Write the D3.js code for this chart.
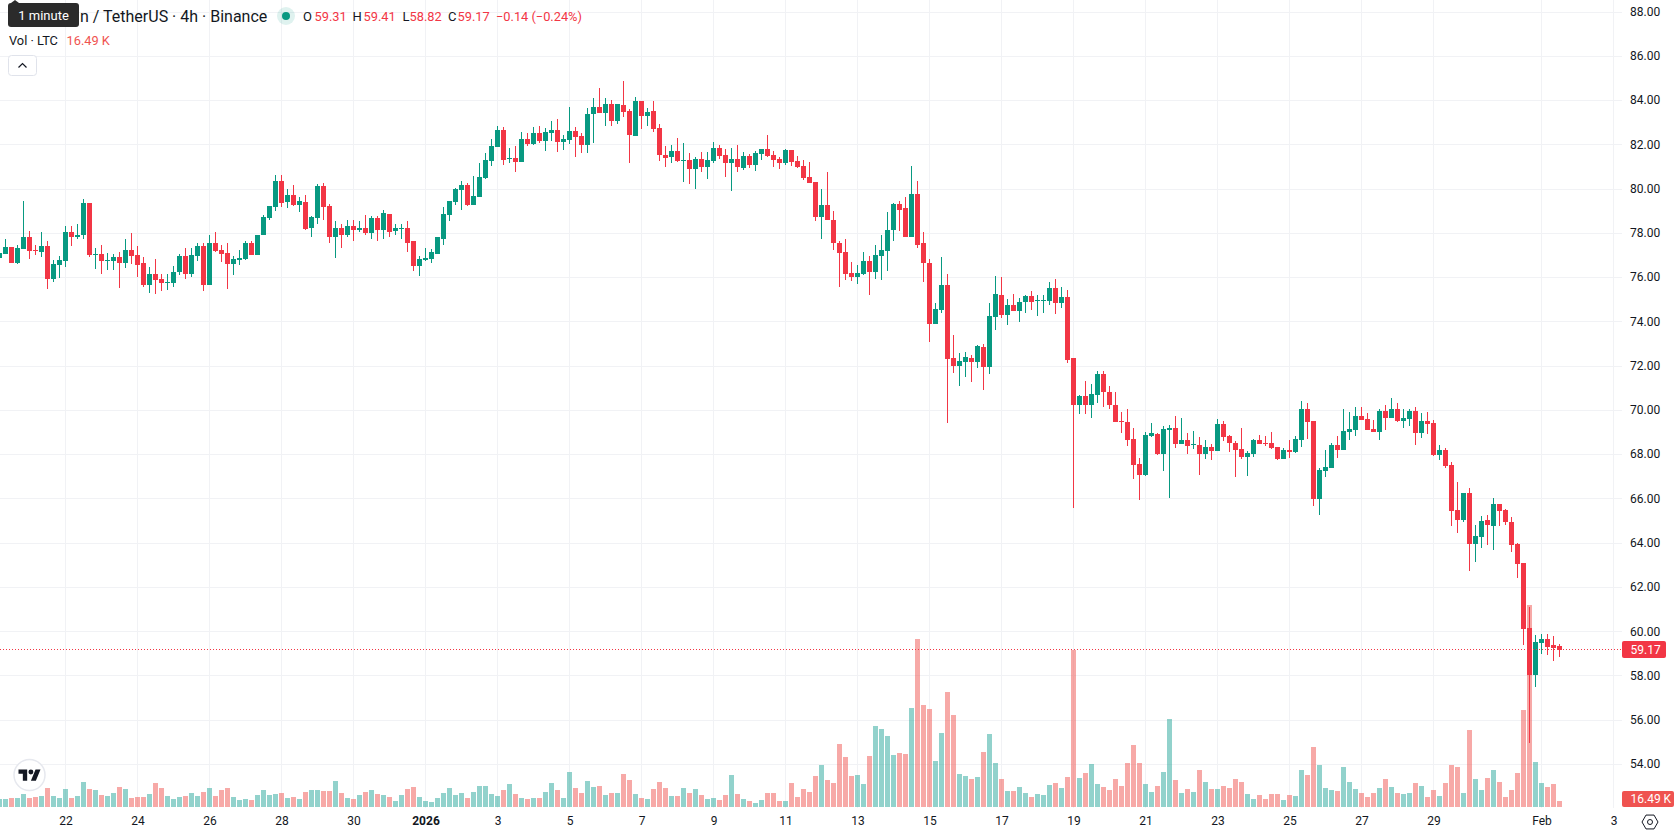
<!DOCTYPE html>
<html>
<head>
<meta charset="utf-8">
<title>LTC/USDT 4h</title>
<script src="https://cdn.jsdelivr.net/npm/d3@7/dist/d3.min.js"></script>
<style>
  html, body { margin: 0; padding: 0; background: #fff; overflow: hidden; }
  svg { display: block; font-family: Roboto, "Noto Sans", sans-serif; }
</style>
</head>
<body>
<svg id="chart" width="1678" height="835"></svg>
<script>
// 4h LTC/USDT candles, oldest first, starting 20 Dec 04:00 UTC
const firstCandle = Date.UTC(2025, 11, 20, 4);
const candleMs = 4 * 3600 * 1000;

const opens = [
  76.88,77.06,77.38,76.65,77.29,77.83,77.24,77.15,77.42,75.92,
  76.56,76.74,78.02,77.79,77.88,79.33,77.02,77.06,76.74,76.74,
  76.92,76.65,77.24,77.02,76.65,75.65,76.15,75.92,75.74,75.74,
  76.24,76.97,76.15,76.97,77.42,75.65,77.56,77.24,77.11,76.61,
  76.79,76.83,77.56,77.02,77.88,78.65,79.15,80.33,79.38,79.70,
  79.24,79.38,78.24,78.65,80.11,79.20,77.79,78.20,77.88,78.29,
  78.11,78.24,77.97,78.65,78.11,78.83,78.06,78.20,78.24,77.61,
  76.52,76.79,76.83,77.06,77.74,78.79,79.38,79.92,80.15,79.24,
  79.61,80.47,81.24,81.88,82.65,81.33,81.38,81.20,82.24,82.02,
  82.52,82.15,82.52,82.65,82.11,82.20,82.61,82.38,81.97,83.38,
  83.70,83.42,83.83,83.06,83.79,83.52,82.38,83.97,83.29,83.52,
  82.74,81.52,81.42,81.70,81.24,81.29,80.88,81.33,80.97,81.24,
  81.83,81.52,81.15,81.33,80.92,81.47,81.06,81.56,81.79,81.52,
  81.33,81.15,81.74,81.24,81.02,80.52,80.29,78.70,79.24,78.56,
  77.56,77.15,76.20,76.02,76.15,76.74,76.24,76.97,77.20,78.11,
  79.29,79.11,77.83,79.74,77.52,76.65,73.88,74.52,75.65,72.33,
  71.97,72.15,72.33,72.15,72.83,71.92,74.20,75.20,74.29,74.74,
  74.47,74.88,75.15,74.92,74.92,74.92,75.52,74.83,75.11,72.33,
  70.20,70.61,70.20,70.65,71.61,70.83,70.24,69.52,69.47,68.70,
  67.56,67.06,68.83,68.92,68.02,69.11,69.20,68.47,68.65,68.42,
  68.42,68.02,68.33,68.15,69.38,68.83,68.52,68.24,67.88,68.02,
  68.65,68.52,68.52,68.33,67.79,68.20,68.11,68.65,70.02,69.52,
  65.97,67.24,67.38,68.42,68.20,69.02,69.11,69.74,69.61,69.15,
  69.02,69.97,69.65,70.06,69.52,69.61,69.97,68.97,69.52,69.42,
  67.97,68.20,67.52,65.47,65.02,66.24,63.92,64.24,65.02,64.74,
  65.74,65.47,64.92,63.92,63.06,60.15,58.02,59.47,59.65,59.38,59.31
];
const highs = [
  77.20,77.74,77.38,77.47,79.42,78.06,77.47,78.02,77.61,76.79,
  76.97,78.33,78.29,78.38,79.52,79.33,77.33,77.47,77.11,77.06,
  77.15,77.74,77.97,77.42,76.92,76.47,76.83,76.15,76.15,76.52,
  77.06,77.33,77.33,77.56,77.56,77.92,78.02,77.47,77.52,76.97,
  77.24,77.65,77.61,77.92,78.79,79.20,80.61,80.61,79.97,80.15,
  79.61,79.70,78.74,80.20,80.24,79.29,78.52,78.38,78.56,78.56,
  78.52,78.79,78.74,78.74,79.02,78.83,78.38,78.42,78.52,77.61,
  76.97,77.33,77.29,77.79,79.15,79.42,80.02,80.33,80.24,80.56,
  81.15,81.61,82.24,82.83,82.79,81.83,81.92,82.56,82.52,82.79,
  82.83,82.74,83.06,83.15,82.42,83.70,82.79,82.52,83.65,84.11,
  84.56,84.11,84.02,83.83,84.88,83.61,84.15,83.97,83.65,83.97,
  82.92,81.92,81.97,82.29,82.06,81.61,81.42,81.65,81.65,82.11,
  81.97,81.79,81.83,81.97,81.65,81.56,81.70,81.79,82.42,81.70,
  81.42,81.79,81.74,81.47,81.29,81.20,80.29,79.97,80.74,78.97,
  77.61,77.74,76.70,76.56,77.15,76.97,77.47,77.88,78.92,79.33,
  79.42,79.61,81.00,80.33,78.02,76.83,74.83,76.92,76.15,73.38,
  72.56,72.61,72.47,72.92,72.97,74.83,76.06,76.02,75.02,75.24,
  75.06,75.20,75.38,75.20,75.20,75.79,75.92,75.56,75.42,72.33,
  70.65,71.29,71.15,71.74,71.74,71.06,70.79,69.92,70.06,69.20,
  67.83,69.02,69.42,68.97,69.29,69.33,69.74,69.65,68.97,69.06,
  68.79,68.65,68.47,69.61,69.52,68.88,68.61,69.20,68.15,68.70,
  68.88,68.83,69.02,68.33,68.29,68.65,68.83,70.38,70.33,69.52,
  67.38,68.20,68.52,68.83,70.02,69.92,70.15,70.15,69.88,69.56,
  70.02,70.24,70.52,70.33,70.02,70.06,70.11,69.88,69.92,69.56,
  68.42,68.29,67.65,66.74,66.24,66.47,64.79,65.20,65.24,66.02,
  65.74,65.52,65.15,63.97,63.06,61.11,59.83,59.88,59.88,59.79,59.41
];
const lows = [
  76.80,77.06,76.65,76.61,77.29,76.83,77.02,76.92,75.47,75.79,
  75.97,76.47,77.42,77.70,77.70,76.92,76.38,76.15,76.33,76.33,
  75.52,76.42,76.61,76.02,75.56,75.29,75.24,75.38,75.42,75.56,
  76.11,75.92,76.02,76.74,75.38,75.65,77.15,76.70,75.47,76.11,
  76.56,76.79,77.02,77.02,77.88,78.56,78.97,79.15,79.11,79.20,
  78.92,78.14,77.83,78.42,78.56,77.56,76.88,77.33,77.79,77.65,
  78.02,77.92,77.70,77.61,77.74,77.79,77.88,77.74,77.15,76.29,
  76.06,76.74,76.65,77.06,77.47,78.52,79.24,79.02,79.20,79.24,
  79.61,80.42,81.02,81.88,81.06,81.15,80.74,81.20,81.92,81.97,
  82.06,81.70,82.15,81.65,81.74,82.02,81.42,81.61,81.61,82.06,
  83.42,82.83,82.83,82.92,83.24,81.15,82.38,82.70,82.83,82.56,
  81.24,80.97,81.15,81.20,80.29,80.20,79.97,80.74,80.42,81.15,
  81.33,80.52,79.88,80.74,80.83,80.92,80.79,81.29,81.42,80.97,
  80.88,81.06,81.02,80.92,80.38,80.24,78.52,77.70,78.56,77.24,
  75.56,75.88,75.83,75.70,76.11,75.20,75.92,75.88,76.29,77.61,
  78.06,77.79,77.83,77.33,75.79,73.06,73.88,74.38,69.42,71.65,
  71.06,71.47,71.24,71.88,70.88,71.61,73.61,74.15,73.83,74.47,
  73.97,74.38,74.52,74.24,74.38,74.74,74.33,74.61,72.11,65.56,
  69.83,69.83,69.65,70.33,70.11,70.06,69.47,68.97,68.38,66.88,
  65.92,67.02,68.79,67.97,67.24,66.02,68.29,68.47,68.02,68.24,
  67.06,67.79,67.74,68.15,68.61,68.11,66.97,67.79,67.02,67.88,
  68.47,68.38,68.24,67.74,67.79,67.83,68.06,68.33,68.70,65.65,
  65.24,66.97,67.38,67.83,68.20,68.65,68.83,69.56,69.11,69.02,
  68.65,69.11,69.65,69.47,69.20,69.29,68.42,68.74,68.92,67.92,
  67.74,67.38,64.74,64.42,64.92,62.70,63.11,63.74,63.88,63.65,
  64.74,64.79,63.56,62.42,59.38,54.97,57.47,58.97,58.92,58.65,58.82
];
const closes = [
  77.11,77.38,76.65,77.33,77.83,77.20,77.20,77.42,75.92,76.61,
  76.79,78.02,77.79,77.92,79.33,77.02,77.06,76.74,76.79,76.92,
  76.65,77.24,76.97,76.56,75.65,76.15,75.88,75.74,75.79,76.24,
  76.97,76.15,77.02,77.42,75.65,77.56,77.20,77.06,76.61,76.83,
  76.88,77.56,77.02,77.92,78.70,79.20,80.33,79.33,79.70,79.24,
  79.42,78.18,78.70,80.11,79.15,77.79,78.20,77.88,78.29,78.11,
  78.24,77.97,78.65,78.11,78.88,78.02,78.20,78.24,77.56,76.52,
  76.83,76.88,77.15,77.79,78.83,79.42,79.97,80.15,79.24,79.65,
  80.52,81.29,81.92,82.65,81.29,81.38,81.20,82.24,82.02,82.52,
  82.15,82.56,82.65,82.11,82.24,82.61,82.33,81.97,83.38,83.70,
  83.42,83.83,83.06,83.83,83.47,82.42,83.97,83.29,83.47,82.70,
  81.52,81.38,81.70,81.24,81.29,80.88,81.33,80.97,81.29,81.83,
  81.47,81.15,81.33,80.97,81.47,81.06,81.61,81.79,81.47,81.29,
  81.15,81.74,81.20,80.97,80.47,80.24,78.70,79.24,78.56,77.56,
  77.11,76.15,76.02,76.20,76.74,76.24,77.02,77.24,78.15,79.29,
  79.02,77.83,79.74,77.47,76.65,73.88,74.56,75.65,72.29,71.97,
  72.20,72.38,72.15,72.88,71.92,74.24,75.24,74.29,74.74,74.47,
  74.88,75.15,74.88,74.97,74.97,75.52,74.83,75.11,72.24,70.20,
  70.61,70.20,70.70,71.61,70.79,70.20,69.47,69.47,68.65,67.52,
  67.06,68.88,68.97,68.02,69.15,69.20,68.47,68.65,68.38,68.47,
  68.02,68.33,68.15,69.38,68.79,68.52,68.20,67.88,68.06,68.65,
  68.47,68.47,68.29,67.79,68.20,68.11,68.70,70.02,69.47,65.97,
  67.29,67.42,68.42,68.20,69.06,69.15,69.74,69.56,69.11,69.02,
  69.97,69.65,70.06,69.52,69.65,69.97,68.97,69.52,69.38,67.97,
  68.20,67.47,65.42,65.02,66.24,63.92,64.29,64.97,64.79,65.74,
  65.42,64.92,63.88,63.02,60.11,58.02,59.52,59.65,59.29,59.24,59.17
];
// Volume per candle, in thousands of LTC
const volumes = [
  22,22,24.7,24.7,35.7,24.7,27.5,30.2,52.2,30.2,
  24.7,49.5,24.7,30.2,68.7,49.5,46.7,33,30.2,38.5,
  55,49.5,24.7,27.5,27.5,35.7,66,52.2,30.2,22,
  27.5,30.2,38.5,30.2,41.2,52.2,30.2,46.7,52.2,27.5,
  19.2,22,19.2,33,46.7,33,35.7,38.5,24.7,27.5,
  22,41.2,46.7,46.7,44,44,71.4,38.5,24.7,22,
  33,41.2,46.7,35.7,33,27.5,16.5,33,49.5,55,
  27.5,16.5,13.7,24.7,38.5,52.2,33,38.5,24.7,41.2,
  57.7,57.7,35.7,30.2,46.7,63.2,35.7,24.7,22,24.7,
  24.7,41.2,66,46.7,24.7,96.2,52.2,38.5,71.4,55,
  57.7,33,38.5,38.5,90.7,74.2,35.7,24.7,22,49.5,
  68.7,52.2,30.2,30.2,52.2,38.5,49.5,33,22,24.7,
  19.2,33,87.9,35.7,22,16.5,11,19.2,38.5,38.5,
  16.5,16.5,66,27.5,49.5,41.2,85.2,115.4,74.2,66,
  173.1,137.4,85.2,87.9,63.2,140.1,222.6,214.3,195.1,142.9,
  148.4,145.6,272.1,461.7,280.3,269.3,126.4,203.4,316,252.8,
  90.7,85.2,76.9,82.4,151.1,200.6,120.9,76.9,44,44,
  55,38.5,27.5,35.7,33,60.5,66,52.2,82.4,431.4,
  79.7,93.4,118.2,63.2,55,46.7,76.9,57.7,120.9,170.4,
  120.9,63.2,41.2,57.7,96.2,241.8,74.2,38.5,49.5,41.2,
  101.7,68.7,49.5,49.5,57.7,52.2,76.9,68.7,35.7,22,
  33,22,35.7,35.7,19.2,33,30.2,101.7,87.9,164.9,
  115.4,52.2,46.7,44,109.9,68.7,49.5,38.5,27.5,38.5,
  52.2,76.9,55,38.5,35.7,38.5,66,57.7,27.5,46.7,
  30.2,66,115.4,109.9,38.5,211.6,76.9,46.7,79.7,101.7,
  68.7,27.5,46.7,93.4,266.6,555.1,123.7,66,55,63.2,16.49
];

const priceTicks = [88,86,84,82,80,78,76,74,72,70,68,66,64,62,60,58,56,54];
const dateTicks = [
  [2025,11,22,"22"],[2025,11,24,"24"],[2025,11,26,"26"],[2025,11,28,"28"],[2025,11,30,"30"],
  [2026,0,1,"2026"],[2026,0,3,"3"],[2026,0,5,"5"],[2026,0,7,"7"],[2026,0,9,"9"],[2026,0,11,"11"],
  [2026,0,13,"13"],[2026,0,15,"15"],[2026,0,17,"17"],[2026,0,19,"19"],[2026,0,21,"21"],[2026,0,23,"23"],
  [2026,0,25,"25"],[2026,0,27,"27"],[2026,0,29,"29"],[2026,1,1,"Feb"],[2026,1,3,"3"]
];
const lastClose = 59.17;
const lastVolumeText = "16.49 K";

const UP = "#089981", DOWN = "#f23645";
const VOL_UP = "rgba(38,166,154,0.5)", VOL_DOWN = "rgba(239,83,80,0.5)";
const GRID = "#f1f2f5", INK = "#131722", TIP = "#2b2b2b";
const PLOT_W = 1622, PLOT_B = 808, VOL_BASE = 807;

const candles = opens.map((o, k) => ({
  t: new Date(firstCandle + k * candleMs),
  o, h: highs[k], l: lows[k], c: closes[k], v: volumes[k]
}));

const x = d3.scaleUtc()
  .domain([candles[0].t, candles[candles.length - 1].t])
  .range([-0.5, 1559.5]);
const y = d3.scaleLinear().domain([88, 54]).range([11.5, 764]);
const yVol = d3.scaleLinear().domain([0, 555.1]).range([VOL_BASE, 605]);

const svg = d3.select("#chart");
const tickDates = dateTicks.map(d => new Date(Date.UTC(d[0], d[1], d[2])));
const tickText = new Map(dateTicks.map((d, k) => [+tickDates[k], d[3]]));

// Grid
const grid = svg.append("g").attr("shape-rendering", "crispEdges").attr("stroke", GRID);
grid.selectAll("line.v").data(tickDates).join("line")
  .attr("x1", d => Math.floor(x(d)) + 0.5).attr("x2", d => Math.floor(x(d)) + 0.5)
  .attr("y1", 0).attr("y2", PLOT_B);
grid.selectAll("line.h").data(priceTicks).join("line")
  .attr("x1", 0).attr("x2", PLOT_W)
  .attr("y1", d => Math.round(y(d)) + 0.5).attr("y2", d => Math.round(y(d)) + 0.5);

// Volume pane
svg.append("g").attr("shape-rendering", "crispEdges")
  .selectAll("rect").data(candles).join("rect")
  .attr("x", d => Math.floor(x(d.t)) - 2).attr("width", 5)
  .attr("y", d => Math.round(yVol(d.v)))
  .attr("height", d => VOL_BASE - Math.round(yVol(d.v)))
  .attr("fill", d => d.c >= d.o ? VOL_UP : VOL_DOWN);

// Candles
const gc = svg.append("g").attr("shape-rendering", "crispEdges");
gc.selectAll("rect.wick").data(candles).join("rect").attr("class", "wick")
  .attr("x", d => Math.floor(x(d.t))).attr("width", 1)
  .attr("y", d => Math.round(y(d.h)))
  .attr("height", d => Math.max(1, Math.round(y(d.l)) - Math.round(y(d.h))))
  .attr("fill", d => d.c >= d.o ? UP : DOWN);
gc.selectAll("rect.body").data(candles).join("rect").attr("class", "body")
  .attr("x", d => Math.floor(x(d.t)) - 2).attr("width", 5)
  .attr("y", d => Math.round(y(Math.max(d.o, d.c))))
  .attr("height", d => Math.max(1, Math.round(y(Math.min(d.o, d.c))) - Math.round(y(Math.max(d.o, d.c)))))
  .attr("fill", d => d.c >= d.o ? UP : DOWN);

// Last price line
svg.append("line")
  .attr("x1", 0).attr("x2", PLOT_W)
  .attr("y1", Math.round(y(lastClose)) - 0.5).attr("y2", Math.round(y(lastClose)) - 0.5)
  .attr("stroke", DOWN).attr("stroke-dasharray", "1 2");

// Axes
const timeAxis = d3.axisBottom(x).tickValues(tickDates).tickSize(0).tickPadding(0)
  .tickFormat(d => tickText.get(+d));
const gx = svg.append("g").attr("transform", "translate(0,816)").call(timeAxis);
gx.select(".domain").remove();
gx.selectAll("text")
  .attr("font-family", "Roboto, sans-serif").attr("font-size", 12).attr("fill", INK)
  .attr("dy", "0.71em").attr("font-weight", d => tickText.get(+d) === "2026" ? 700 : 400);

const priceAxis = d3.axisRight(y).tickValues(priceTicks).tickSize(0).tickPadding(0)
  .tickFormat(d3.format(".2f"));
const gy = svg.append("g").attr("transform", "translate(1630,0)").call(priceAxis);
gy.select(".domain").remove();
gy.selectAll("text").attr("font-family", "Roboto, sans-serif").attr("font-size", 12).attr("fill", INK);

// Value tags on the price scale
function tag(yTop, w, h, fill, text) {
  svg.append("rect").attr("x", 1622).attr("y", yTop).attr("width", w).attr("height", h).attr("rx", 2).attr("fill", fill);
  svg.append("text").attr("x", 1630.5).attr("y", yTop + h / 2 + 4.3)
    .attr("font-size", 12).attr("fill", "#fff").text(text);
}
tag(641, 44, 17, DOWN, d3.format(".2f")(lastClose));
tag(791, 52, 16, "#ef5350", lastVolumeText);

// Settings button in the scale corner
const gear = svg.append("g").attr("transform", "translate(1650,822)")
  .attr("fill", "none").attr("stroke", INK).attr("stroke-width", 1);
gear.append("path").attr("d", d3.line()(d3.range(7).map(k => {
  const a = Math.PI / 3 * k;
  return [8 * Math.cos(a), 8 * Math.sin(a)];
})));
gear.append("circle").attr("r", 2.5);

// Logo badge
const logo = svg.append("g").attr("transform", "translate(29.5,775)");
logo.append("circle").attr("r", 15.5).attr("fill", "#fff").attr("stroke", "#e6e8ee").attr("stroke-width", 1.5);
const mark = logo.append("g").attr("transform", "translate(-11,-8) scale(0.62)").attr("fill", "#131722");
mark.append("path").attr("d", "M14 22H7V11H0V4h14v18zM28 22h-8l7.5-18h8L28 22z");
mark.append("circle").attr("cx", 20).attr("cy", 8).attr("r", 4);

// Legend; the start of the symbol name sits under the tooltip
svg.append("text").attr("x", 80).attr("y", 21.5)
  .attr("font-size", 16).attr("fill", INK).text("n / TetherUS · 4h · Binance");
svg.append("circle").attr("cx", 286).attr("cy", 16).attr("r", 9).attr("fill", "rgba(8,153,129,0.13)");
svg.append("circle").attr("cx", 286).attr("cy", 16).attr("r", 4).attr("fill", UP);

const ohlc = [
  ["O", 303, "59.31", 314.5], ["H", 352.5, "59.41", 363.5],
  ["L", 402.5, "58.82", 409.5], ["C", 448, "59.17", 457.5]
];
ohlc.forEach(([k, kx, v, vx]) => {
  svg.append("text").attr("x", kx).attr("y", 21).attr("font-size", 13).attr("fill", INK).text(k);
  svg.append("text").attr("x", vx).attr("y", 21).attr("font-size", 12.8).attr("fill", DOWN).text(v);
});
svg.append("text").attr("x", 496).attr("y", 21).attr("font-size", 12.8).attr("fill", DOWN).text("−0.14 (−0.24%)");

svg.append("text").attr("x", 9).attr("y", 45).attr("font-size", 12.8).attr("fill", INK).text("Vol · LTC");
svg.append("text").attr("x", 66.5).attr("y", 45).attr("font-size", 12.8).attr("fill", "#ef5350").text(lastVolumeText);

// Collapse button
svg.append("rect").attr("x", 8.5).attr("y", 55.5).attr("width", 28).attr("height", 20).attr("rx", 3)
  .attr("fill", "#fff").attr("stroke", "#e0e3eb");
svg.append("path").attr("d", "M18.5 67.5L22.5 63.5L26.5 67.5").attr("fill", "none")
  .attr("stroke", INK).attr("stroke-width", 1.2);

// Tooltip over the symbol name
svg.append("path").attr("d", "M11 3L15 0L19 3Z").attr("fill", TIP);
svg.append("rect").attr("x", 8).attr("y", 3).attr("width", 71).attr("height", 24).attr("rx", 3).attr("fill", TIP);
svg.append("text").attr("x", 43.5).attr("y", 19.5).attr("text-anchor", "middle")
  .attr("font-size", 13).attr("fill", "#fff").text("1 minute");
</script>
</body>
</html>
